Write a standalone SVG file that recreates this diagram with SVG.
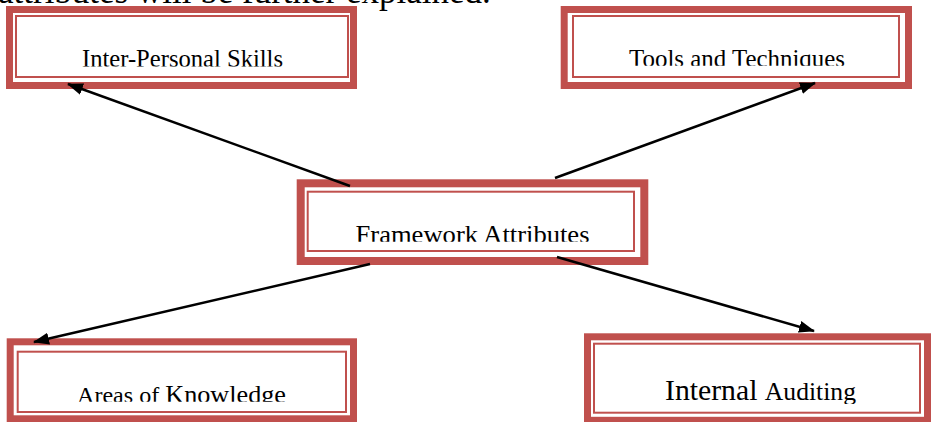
<svg xmlns="http://www.w3.org/2000/svg" width="932" height="422" viewBox="0 0 932 422">
<style>
.outer{fill:none;stroke:#C0504D;stroke-width:7}
.inner{fill:none;stroke:#C0504D;stroke-width:2}
.lbl{font-family:"Liberation Serif","Times New Roman",serif;fill:#000;text-anchor:middle}
.conn{stroke:#000;stroke-width:2.5;fill:none}
</style>
<defs>
<marker id="ah" viewBox="0 0 16 12" refX="15" refY="6" markerWidth="16" markerHeight="12" markerUnits="userSpaceOnUse" orient="auto">
<path d="M0,0 L16,6 L0,12 Z" fill="#000"/>
</marker>
<clipPath id="c1"><rect x="0" y="0" width="932" height="66.5"/></clipPath>
<clipPath id="c2"><rect x="0" y="0" width="932" height="65.7"/></clipPath>
<clipPath id="c3"><rect x="0" y="0" width="932" height="241.7"/></clipPath>
<clipPath id="c4"><rect x="0" y="0" width="932" height="401.7"/></clipPath>
<clipPath id="c5"><rect x="0" y="0" width="932" height="404"/></clipPath>
</defs>
<rect width="932" height="422" fill="#fff"/>
<text id="heading" x="-2" y="3" font-family="Liberation Serif, serif" font-size="35" fill="#000">attributes will be further explained.</text>

<g id="interpersonal">
<rect class="outer" x="9.5" y="9.5" width="344" height="76"/>
<rect class="inner" x="16" y="16" width="332" height="61"/>
<text class="lbl" x="182.5" y="67" font-size="24.5" clip-path="url(#c1)" textLength="201" lengthAdjust="spacingAndGlyphs">Inter-Personal Skills</text>
</g>

<g id="tools">
<rect class="outer" x="564.2" y="9.5" width="344.3" height="76"/>
<rect class="inner" x="573" y="16" width="326" height="61"/>
<text class="lbl" x="737" y="66.5" font-size="24.5" clip-path="url(#c2)" textLength="216" lengthAdjust="spacingAndGlyphs">Tools and Techniques</text>
</g>

<g id="framework">
<rect class="outer" x="300.7" y="183.3" width="343.6" height="77.7" style="stroke-width:8"/>
<rect class="inner" x="307.7" y="191.7" width="326.3" height="59.3"/>
<text class="lbl" x="472.5" y="242.5" font-size="25" clip-path="url(#c3)" textLength="234" lengthAdjust="spacingAndGlyphs">Framework Attributes</text>
</g>

<g id="knowledge">
<rect class="outer" x="10.2" y="341.8" width="343.3" height="77"/>
<rect class="inner" x="17.7" y="351.7" width="328.3" height="60.3"/>
<text class="lbl" x="181.5" y="402.5" font-size="25" clip-path="url(#c4)" textLength="209" lengthAdjust="spacingAndGlyphs"><tspan font-size="23">Areas of </tspan>Knowledge</text>
</g>

<g id="auditing">
<rect class="outer" x="587.5" y="336.8" width="340" height="83.5"/>
<rect class="inner" x="594" y="343.7" width="326" height="69"/>
<text class="lbl" x="760.5" y="399.5" font-size="29" clip-path="url(#c5)" textLength="191" lengthAdjust="spacingAndGlyphs">Internal <tspan font-size="25">Auditing</tspan></text>
</g>

<g id="connectors">
<line class="conn" x1="350" y1="186" x2="68" y2="84" marker-end="url(#ah)"/>
<line class="conn" x1="555" y1="178" x2="815" y2="83" marker-end="url(#ah)"/>
<line class="conn" x1="370" y1="264" x2="34" y2="342" marker-end="url(#ah)"/>
<line class="conn" x1="557" y1="257" x2="814" y2="331" marker-end="url(#ah)"/>
</g>
</svg>
